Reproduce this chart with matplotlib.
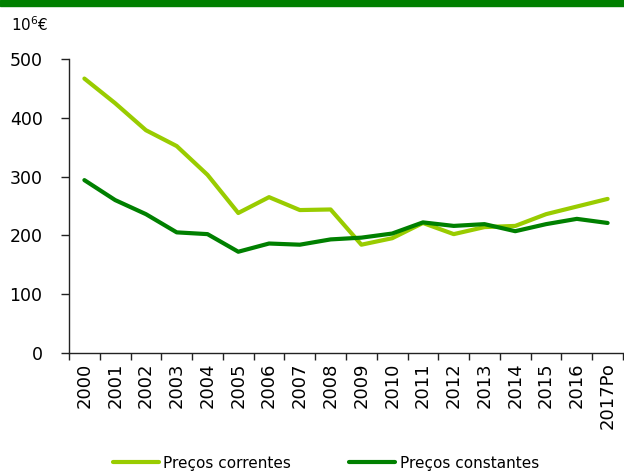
import numpy as np
import matplotlib
matplotlib.use("Agg")
import matplotlib.pyplot as plt
from matplotlib.patches import Rectangle

years = ["2000", "2001", "2002", "2003", "2004", "2005", "2006", "2007", "2008",
         "2009", "2010", "2011", "2012", "2013", "2014", "2015", "2016", "2017Po"]
correntes = [467, 425, 379, 352, 303, 238, 265, 243, 244,
             184, 195, 221, 202, 214, 216, 236, 249, 262]
constantes = [294, 260, 236, 205, 202, 172, 186, 184, 193,
              196, 203, 222, 216, 219, 207, 219, 228, 221]

light = "#99CC00"
dark = "#008000"

plt.rcParams['font.family'] = ['DejaVu Sans']

fig = plt.figure(figsize=(6.24, 4.73), dpi=100)
ax = fig.add_axes([69/624, 120.3/473, 554/624, 293.5/473])

x = np.arange(len(years))
ax.plot(x, correntes, color=light, lw=3, label="Preços correntes", solid_capstyle='round')
ax.plot(x, constantes, color=dark, lw=3, label="Preços constantes", solid_capstyle='round')

ax.set_xlim(-0.5, len(years) - 0.5)
ax.set_ylim(0, 500)
ax.set_yticks([0, 100, 200, 300, 400, 500])
ax.tick_params(axis='y', labelsize=12.5, length=6, width=1, color='#222222', pad=13)

ax.set_xticks(x)
ax.set_xticklabels(years, rotation=90, fontsize=13)
ax.tick_params(axis='x', which='major', length=0, pad=7)
ax.set_xticks(np.arange(-0.5, len(years)), minor=True)
ax.tick_params(axis='x', which='minor', length=5, width=1, color='#222222')

for s in ['top', 'right']:
    ax.spines[s].set_visible(False)
for s in ['left', 'bottom']:
    ax.spines[s].set_color('#222222')
    ax.spines[s].set_linewidth(1)

# green band on top
fig.patches.append(Rectangle((0, 1 - 6/473), 1, 6/473, transform=fig.transFigure,
                             color=dark, zorder=0))
fig.text(11/624, 1 - 24.5/473, "10$^{6}$€", fontsize=11, va='center', ha='left')

fig.legend(loc='center', bbox_to_anchor=(326/624, 1 - 463/473), ncol=2, frameon=False,
           fontsize=11, handlelength=3, columnspacing=3.8, handletextpad=0.3)

fig.savefig("out.png", dpi=100)
